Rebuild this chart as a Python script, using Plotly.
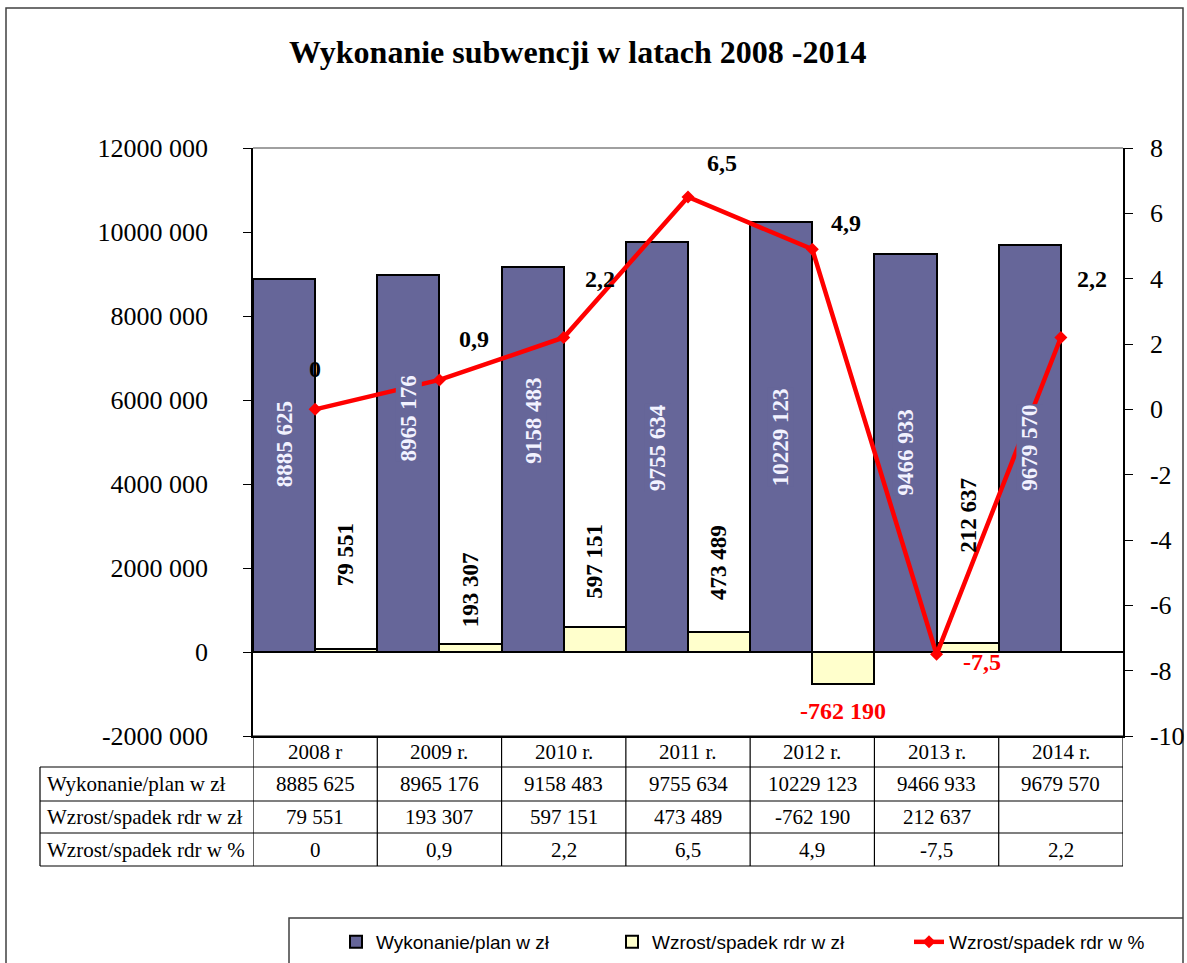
import plotly.graph_objects as go

# ---------------- data ----------------
years = ["2008 r", "2009 r.", "2010 r.", "2011 r.", "2012 r.", "2013 r.", "2014 r."]
wykonanie = [8885625, 8965176, 9158483, 9755634, 10229123, 9466933, 9679570]
wzrost_zl = [79551, 193307, 597151, 473489, -762190, 212637, None]
wzrost_pct = [0, 0.9, 2.2, 6.5, 4.9, -7.5, 2.2]

left_ticks = [-2000000, 0, 2000000, 4000000, 6000000, 8000000, 10000000, 12000000]
right_ticks = [-10, -8, -6, -4, -2, 0, 2, 4, 6, 8]

row_labels = ["Wykonanie/plan w zł", "Wzrost/spadek rdr w zł", "Wzrost/spadek rdr w %"]
series_names = ["Wykonanie/plan w zł", "Wzrost/spadek rdr w zł", "Wzrost/spadek rdr w %"]
title_text = "Wykonanie subwencji w latach 2008 -2014"

# ---------------- label placement (layout, not data) ----------------
blue_label_y = [4.95e6, 5.57e6, 5.50e6, 4.88e6, 5.12e6, 4.74e6, 4.86e6]
yellow_label_y = [2.31e6, 1.48e6, 2.17e6, 2.12e6, -1.40e6, 3.26e6, None]
pct_label_shift = [(0, 40), (35, 41), (36, 58), (34, 34), (34, 26), (45, -8), (31, 58)]

# ---------------- styles ----------------
SERIF = "Liberation Serif"
SANS = "Liberation Sans"
BLUE = "#666699"
YELLOW = "#FFFFCC"
RED = "#FF0000"

W, H = 1187, 963
PL, PR, PT, PB = 253, 1123, 148, 736  # plot area in pixels


def px(x):
    return (x - PL) / (PR - PL)


def py(y):
    return (PB - y) / (PB - PT)


def fmt_int(v):
    if v is None:
        return ""
    if v == 0:
        return "0"
    s = "-" if v < 0 else ""
    a = abs(int(v))
    if a >= 1000:
        return f"{s}{a // 1000} {a % 1000:03d}"
    return f"{s}{a}"


def fmt_pct(v):
    if v == 0:
        return "0"
    return f"{v:.1f}".replace(".", ",")


fig = go.Figure()

fig.add_trace(go.Bar(
    x=years, y=wykonanie, name=series_names[0],
    marker=dict(color=BLUE, line=dict(color="black", width=2)),
    legend="legend", hoverinfo="x+y",
))
fig.add_trace(go.Bar(
    x=years, y=wzrost_zl, name=series_names[1],
    marker=dict(color=YELLOW, line=dict(color="black", width=2)),
    legend="legend2", hoverinfo="x+y",
))
fig.add_trace(go.Scatter(
    x=years, y=wzrost_pct, name=series_names[2], yaxis="y2",
    mode="lines+markers",
    line=dict(color=RED, width=4.5),
    marker=dict(symbol="diamond", size=10, color=RED),
    legend="legend3",
))

ann = []
shapes = []

# title
ann.append(dict(text=f"<b>{title_text}</b>", xref="paper", yref="paper",
                x=px(578), y=py(52), showarrow=False, xanchor="center", yanchor="middle",
                font=dict(family=SERIF, size=32, color="black")))

# blue bar labels
for i, v in enumerate(wykonanie):
    ann.append(dict(text=f"<b>{fmt_int(v)}</b>", x=i - 0.25, y=blue_label_y[i], xref="x", yref="y",
                    showarrow=False, textangle=-90, bgcolor=BLUE, borderpad=0,
                    font=dict(family=SERIF, size=23, color="#F2F2FF")))

# yellow bar labels
for i, v in enumerate(wzrost_zl):
    if v is None:
        continue
    if v < 0:
        ann.append(dict(text=f"<b>{fmt_int(v)}</b>", x=i + 0.25, y=yellow_label_y[i], xref="x", yref="y",
                        showarrow=False, font=dict(family=SERIF, size=24, color=RED)))
    else:
        ann.append(dict(text=f"<b>{fmt_int(v)}</b>", x=i + 0.25, y=yellow_label_y[i], xref="x", yref="y",
                        showarrow=False, textangle=-90,
                        font=dict(family=SERIF, size=23, color="black")))

# line labels
for i, v in enumerate(wzrost_pct):
    dx, dy = pct_label_shift[i]
    ann.append(dict(text=f"<b>{fmt_pct(v)}</b>", x=i, y=v, xref="x", yref="y2",
                    xshift=dx, yshift=dy, showarrow=False,
                    font=dict(family=SERIF, size=24, color=RED if v < 0 else "black")))

# ---------------- data table ----------------
row_edges = [736, 767, 801, 833, 866]
line_style = dict(color="black", width=1.2)
shapes.append(dict(type="line", xref="paper", yref="paper", x0=px(PL), x1=px(PR),
                   y0=py(row_edges[0]), y1=py(row_edges[0]), line=line_style))
for ye in row_edges[1:]:
    shapes.append(dict(type="line", xref="paper", yref="paper", x0=px(40), x1=px(PR),
                       y0=py(ye), y1=py(ye), line=line_style))
shapes.append(dict(type="line", xref="paper", yref="paper", x0=px(40), x1=px(40),
                   y0=py(row_edges[1]), y1=py(row_edges[-1]), line=line_style))
for k in range(len(years) + 1):
    shapes.append(dict(type="line", xref="x", yref="paper", x0=k - 0.5, x1=k - 0.5,
                       y0=py(row_edges[0]), y1=py(row_edges[-1]), line=line_style))

row_centers = [(row_edges[j] + row_edges[j + 1]) / 2 for j in range(4)]
table_font = dict(family=SERIF, size=21, color="black")
rows = [years, [fmt_int(v) for v in wykonanie], [fmt_int(v) for v in wzrost_zl],
        [fmt_pct(v) for v in wzrost_pct]]
for j, row in enumerate(rows):
    for i, t in enumerate(row):
        if t == "":
            continue
        ann.append(dict(text=t, x=i, y=py(row_centers[j]), xref="x", yref="paper",
                        showarrow=False, font=table_font, yanchor="middle"))
for j, lab in enumerate(row_labels):
    ann.append(dict(text=lab, x=px(45), y=py(row_centers[j + 1]), xref="paper", yref="paper",
                    showarrow=False, xanchor="left", yanchor="middle", font=table_font))

# plot-area top border (grey)
shapes.append(dict(type="line", xref="paper", yref="paper", x0=0, x1=1, y0=1, y1=1,
                   line=dict(color="#808080", width=1.5)))
# outer frame (left, top, right edges)
frame = dict(color="#404040", width=1.5)
shapes.append(dict(type="path", xref="paper", yref="paper", layer="below", line=frame,
                   path=f"M {px(6)},{py(963)} L {px(6)},{py(8)} L {px(1183)},{py(8)} L {px(1183)},{py(963)}"))
# legend frame (left and top edges)
shapes.append(dict(type="path", xref="paper", yref="paper", layer="below", line=frame,
                   path=f"M {px(289)},{py(963)} L {px(289)},{py(918)} L {px(1183)},{py(918)}"))

legend_common = dict(orientation="h", yanchor="middle", xanchor="left", bgcolor="rgba(0,0,0,0)",
                     xref="container", yref="container",
                     font=dict(family=SANS, size=19, color="black"), y=1 - 942 / H)

axis_common = dict(automargin=False, showgrid=False)

fig.update_layout(
    width=W, height=H, autosize=False,
    margin=dict(l=PL, r=W - PR, t=PT, b=H - PB, autoexpand=False),
    paper_bgcolor="white", plot_bgcolor="white",
    barmode="group", bargap=0, bargroupgap=0,
    showlegend=True,
    legend=dict(**legend_common, x=336 / W),
    legend2=dict(**legend_common, x=612 / W),
    legend3=dict(**legend_common, x=909 / W),
    xaxis=dict(**axis_common, type="category", range=[-0.5, 6.5], showticklabels=False, ticks="",
               showline=True, linecolor="black", linewidth=1.5, zeroline=False,
               fixedrange=True),
    yaxis=dict(**axis_common, range=[-2000000, 12000000], tickvals=left_ticks,
               ticktext=[fmt_int(v) for v in left_ticks],
               zeroline=True, zerolinecolor="black", zerolinewidth=1.5,
               showline=True, linecolor="black", linewidth=1.5,
               ticks="outside", ticklen=8, tickcolor="black", tickwidth=1.2,
               ticklabelstandoff=30,
               tickfont=dict(family=SERIF, size=26, color="black")),
    yaxis2=dict(**axis_common, range=[-10, 8], overlaying="y", side="right", tickvals=right_ticks,
                ticktext=[str(v) for v in right_ticks],
                zeroline=False,
                showline=True, linecolor="black", linewidth=1.5,
                ticks="outside", ticklen=8, tickcolor="black", tickwidth=1.2,
                ticklabelstandoff=12,
                tickfont=dict(family=SERIF, size=26, color="black")),
    annotations=ann,
    shapes=shapes,
)

fig.write_html(
    "out.html",
    config={"displayModeBar": False},
    post_script="document.body.style.margin='0';document.documentElement.style.overflow='hidden';",
)
